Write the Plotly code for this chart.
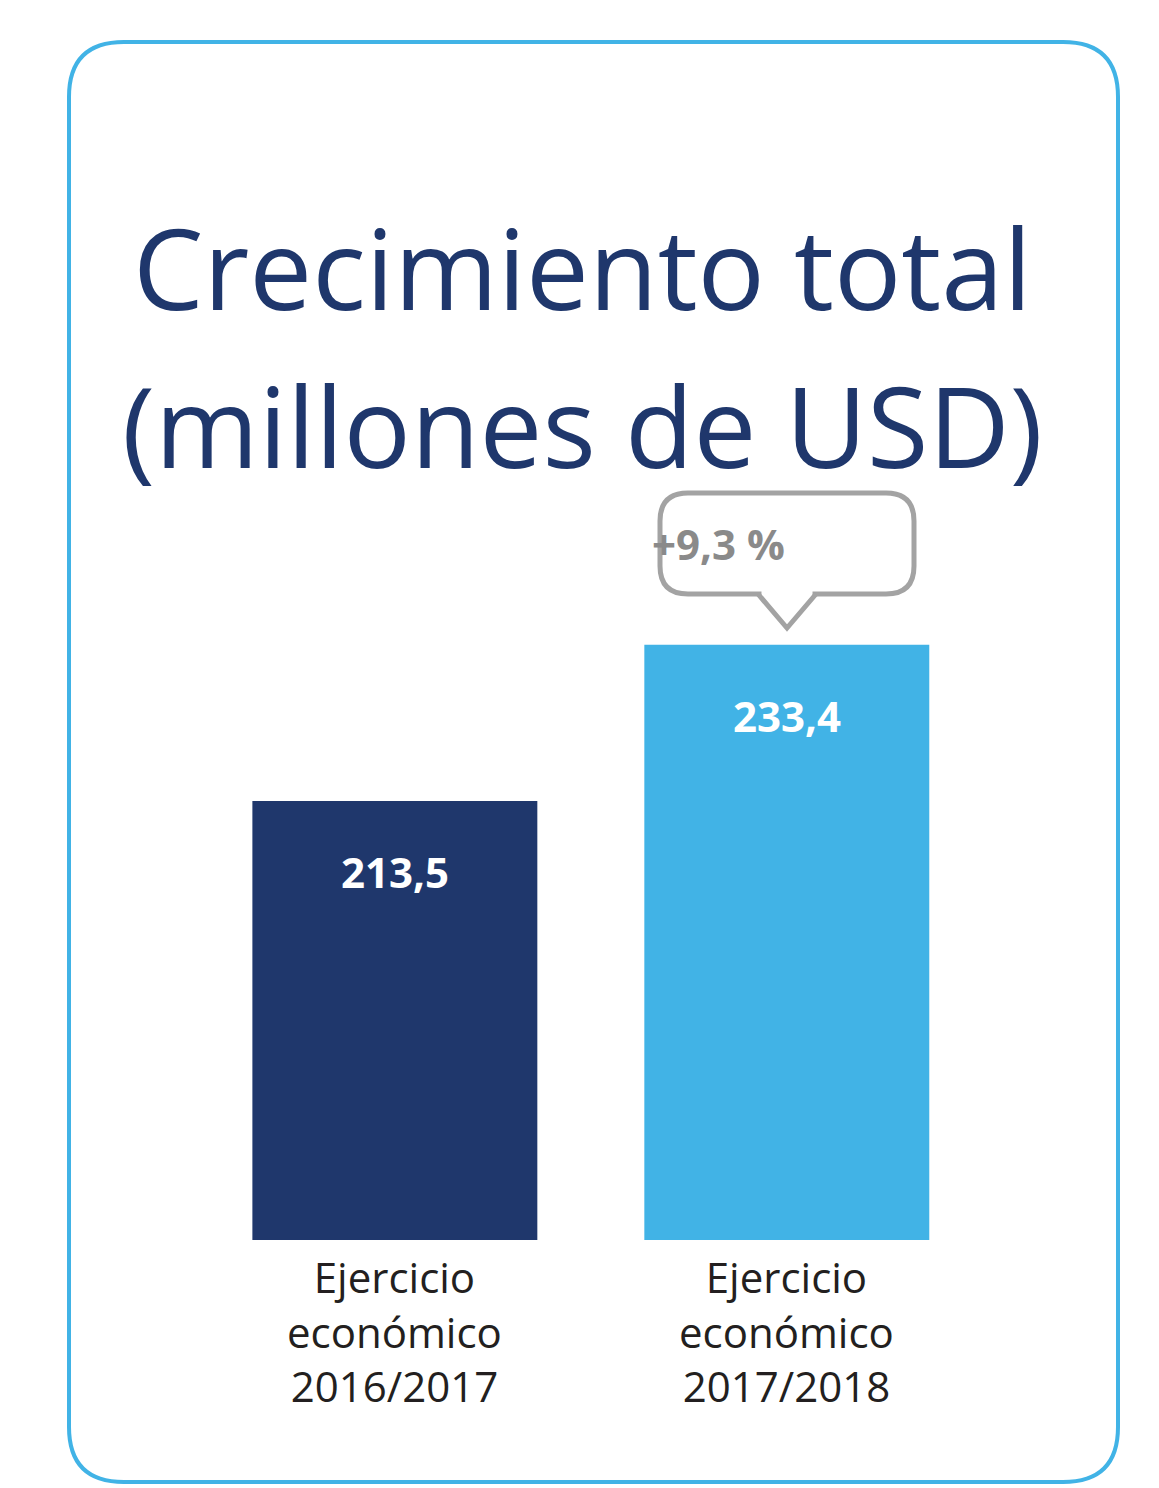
import plotly.graph_objects as go

### data
periods = ["Ejercicio<br>económico<br>2016/2017", "Ejercicio<br>económico<br>2017/2018"]
values = [213.5, 233.4]
value_labels = ["213,5", "233,4"]
growth_label = "+9,3 %"
bar_colors = ["#1f376c", "#41b3e6"]

W, H = 1159, 1488


def px(x, y):
    # pixel -> paper coords
    return x / W, 1 - y / H


def rounded_path(x0, y0, x1, y1, r):
    a = px(x0 + r, y0); b = px(x1 - r, y0); c = px(x1, y0); d = px(x1, y0 + r)
    e = px(x1, y1 - r); f = px(x1, y1); g = px(x1 - r, y1); h = px(x0 + r, y1)
    i = px(x0, y1); j = px(x0, y1 - r); k = px(x0, y0 + r); l = px(x0, y0)
    s = "M{},{} L{},{} Q{},{} {},{} L{},{} Q{},{} {},{} L{},{} Q{},{} {},{} L{},{} Q{},{} {},{} Z"
    return s.format(*a, *b, *c, *d, *e, *f, *g, *h, *i, *j, *k, *l, *a)


fig = go.Figure()
fig.add_trace(go.Bar(x=[0, 1], y=values, width=0.727, marker_color=bar_colors,
                     marker_line_width=0, hoverinfo="skip"))

### value labels inside bars
for i, v in enumerate(values):
    fig.add_annotation(x=i, y=v, text="<b>" + value_labels[i] + "</b>", showarrow=False,
                       yanchor="top", yshift=-40, font=dict(size=42, color="white", family="Open Sans"))

### category labels
for i, p in enumerate(periods):
    fig.add_annotation(x=i, y=0.168, yref="paper", text=p, showarrow=False, yanchor="top",
                       font=dict(size=42, color="#231f20", family="Open Sans"))

### title
for line, yy in [("Crecimiento total", 180), ("(millones de USD)", 338)]:
    fig.add_annotation(x=0.496, y=px(0, yy)[1], xref="paper", yref="paper", text=line,
                       showarrow=False, font=dict(size=112, color="#1f376c", family="Open Sans"))

### frame
fig.add_shape(type="path", xref="paper", yref="paper", path=rounded_path(61, 34, 1110, 1474, 55),
              line=dict(color="#41b3e6", width=4))

### callout
fig.add_shape(type="path", xref="paper", yref="paper", path=rounded_path(652, 485, 906, 586, 28),
              line=dict(color="#a3a3a3", width=5), fillcolor="white")
p1, p2, p3 = px(750, 586), px(779, 620), px(808, 586)
fig.add_shape(type="line", xref="paper", yref="paper", x0=p1[0] + 0.003, y0=p1[1], x1=p3[0] - 0.003, y1=p3[1],
              line=dict(color="white", width=8))
fig.add_shape(type="path", xref="paper", yref="paper",
              path="M{},{} L{},{} L{},{}".format(*p1, *p2, *p3),
              line=dict(color="#a3a3a3", width=5))
fig.add_annotation(x=px(779, 0)[0], y=px(0, 535)[1], xref="paper", yref="paper",
                   text="<b>" + growth_label + "</b>", showarrow=False,
                   font=dict(size=42, color="#8a8a8a", family="Open Sans"))

fig.update_layout(width=W, height=H, margin=dict(l=0, r=0, t=0, b=0),
                  paper_bgcolor="white", plot_bgcolor="white", showlegend=False,
                  xaxis=dict(range=[-0.987, 1.970], visible=False),
                  yaxis=dict(range=[157.5, 253.4], domain=[1 - 1232 / H, 1 - 480 / H], visible=False))

fig.write_html("out.html")
